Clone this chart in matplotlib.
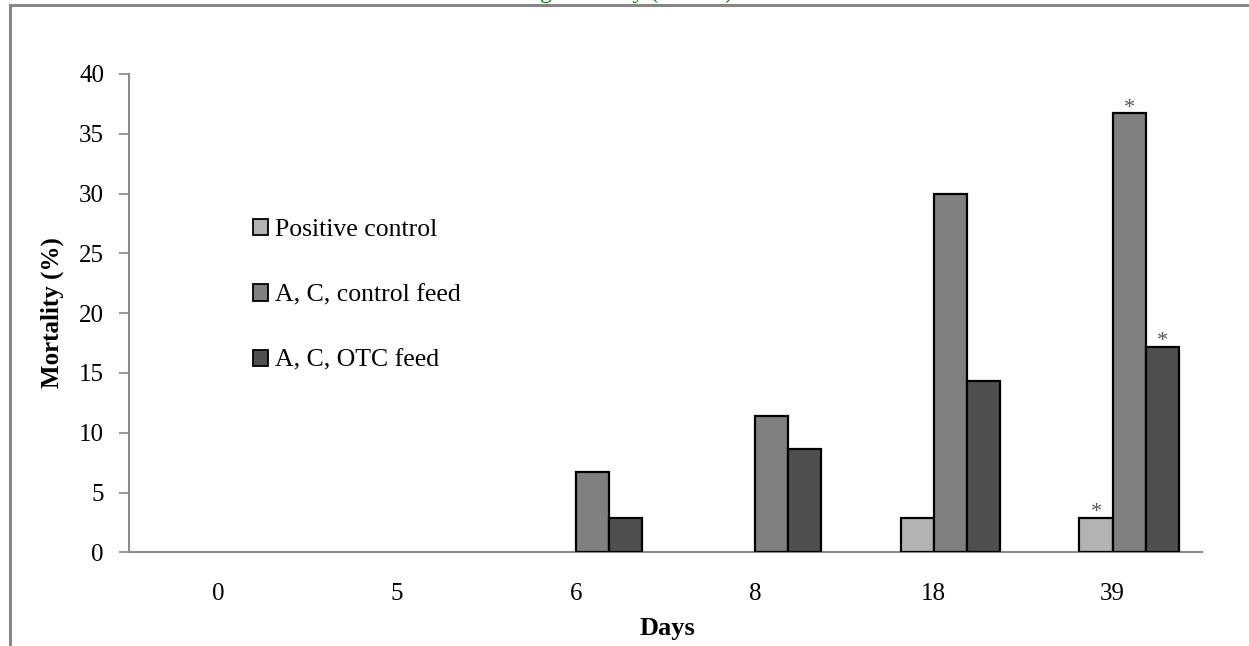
import matplotlib.pyplot as plt
import numpy as np
from matplotlib.patches import Patch
from matplotlib.lines import Line2D

plt.rcParams['font.family'] = ['Liberation Serif', 'DejaVu Serif']

# Data
days = ['0', '5', '6', '8', '18', '39']
positive_control = [0, 0, 0, 0, 2.9, 2.9]
control_feed = [0, 0, 6.7, 11.4, 30.0, 36.7]
otc_feed = [0, 0, 2.9, 8.6, 14.3, 17.2]
# significance marks (only day 39)
star_pc = [False, False, False, False, False, True]
star_cf = [False, False, False, False, False, True]
star_otc = [False, False, False, False, False, True]

series = [
    ('Positive control', positive_control, '#b3b3b3', star_pc),
    ('A, C, control feed', control_feed, '#808080', star_cf),
    ('A, C, OTC feed', otc_feed, '#4f4f4f', star_otc),
]

fig = plt.figure(figsize=(12.49, 6.46), dpi=100)
ax = fig.add_axes([129 / 1249, 1 - 552.3 / 646, (1202 - 129) / 1249, (552.3 - 74) / 646])

x = np.arange(len(days))
w = 0.185
# four slots per day, first slot is empty in the original chart
offsets = [-0.5 * w, 0.5 * w, 1.5 * w]

for (name, vals, col, stars), off in zip(series, offsets):
    vals = np.array(vals, dtype=float)
    keep = vals > 0
    ax.bar(x[keep] + off, vals[keep], width=w, color=col, edgecolor='black',
           linewidth=1.6, zorder=3)
    for xi, v, s in zip(x, vals, stars):
        if s:
            ax.text(xi + off, v + 0.05, '*', ha='center', va='baseline',
                    fontsize=16, color='#555555', zorder=4)

ax.set_xlim(-0.5, 5.5)
ax.set_ylim(0, 40)
ax.set_yticks(range(0, 41, 5))
ax.set_xticks(x)
ax.set_xticklabels(days)
ax.tick_params(axis='x', length=0, pad=22, labelsize=18)
ax.tick_params(axis='y', length=7, width=1.2, color='#868686', pad=11, labelsize=18)

for side in ['top', 'right']:
    ax.spines[side].set_visible(False)
for side in ['left', 'bottom']:
    ax.spines[side].set_color('#8c8c8c')
    ax.spines[side].set_linewidth(1.5)

fig.text(52 / 1249, 1 - 313 / 646, 'Mortality (%)', rotation=90, ha='center',
         va='center', fontsize=18, fontweight='bold')
fig.text(667 / 1249, 1 - 628 / 646, 'Days', ha='center', va='center',
         fontsize=19, fontweight='bold')

handles = [Patch(facecolor=c, edgecolor='black', linewidth=1.3, label=n)
           for n, _, c, _ in series]
fig.legend(handles=handles, loc='upper left',
           bbox_to_anchor=(240 / 1249, 1 - 206 / 646), frameon=False,
           fontsize=18.5, handlelength=0.6, handleheight=0.6,
           handletextpad=0.25, labelspacing=1.68, borderpad=0)

# cropped title and outer frame of the original figure
fig.text(575 / 1249, 1 + 2 / 646, 'Accumulating mortality (Trial A)', ha='center',
         va='baseline', fontsize=17, color='#008000')
fig.add_artist(Line2D([10 / 1249, 1], [1 - 5 / 646, 1 - 5 / 646],
                      transform=fig.transFigure, color='#868686', linewidth=2.2))
fig.add_artist(Line2D([10 / 1249, 10 / 1249], [0, 1 - 5 / 646],
                      transform=fig.transFigure, color='#868686', linewidth=2.2))

fig.savefig('out.png', dpi=100)
